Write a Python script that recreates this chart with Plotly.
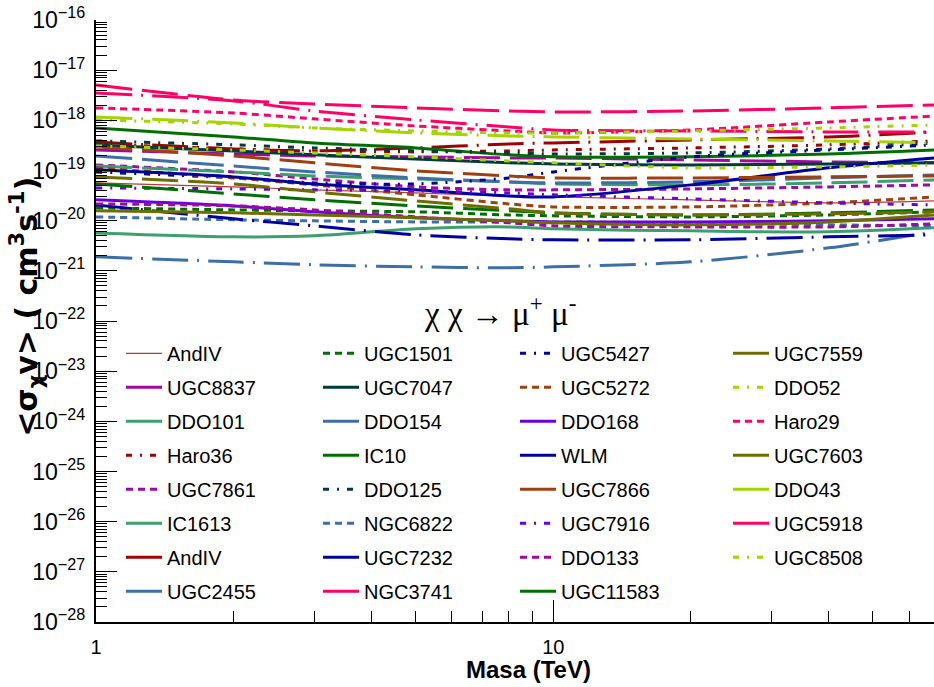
import plotly.graph_objects as go
import math

# Mass grid (TeV)
masa = [1, 2, 3, 5, 8, 10, 20, 40, 68]

# <sigma v> upper limits (cm^3 s^-1)
AndIV_a  = [5.66e-20, 4.71e-20, 4.11e-20, 3.58e-20, 3.12e-20, 2.98e-20, 2.60e-20, 2.26e-20, 2.48e-20]
UGC8837  = [2.57e-19, 2.14e-19, 1.95e-19, 1.87e-19, 1.78e-19, 1.78e-19, 1.63e-19, 1.48e-19, 1.42e-19]
DDO101   = [5.71e-21, 4.76e-21, 4.98e-21, 6.87e-21, 7.52e-21, 6.87e-21, 6.26e-21, 5.98e-21, 7.19e-21]
Haro36   = [3.39e-19, 2.69e-19, 2.46e-19, 2.35e-19, 2.46e-19, 2.57e-19, 2.82e-19, 3.24e-19, 3.89e-19]
UGC7861  = [1.29e-19, 9.38e-20, 6.80e-20, 4.71e-20, 4.11e-20, 4.11e-20, 4.30e-20, 4.71e-20, 5.17e-20]
IC1613   = [1.23e-19, 9.38e-20, 7.81e-20, 6.80e-20, 5.93e-20, 5.41e-20, 5.17e-20, 5.66e-20, 6.50e-20]
AndIV_b  = [3.71e-19, 2.69e-19, 2.46e-19, 2.82e-19, 3.39e-19, 3.55e-19, 4.07e-19, 4.67e-19, 5.87e-19]
UGC2455  = [1.90e-21, 1.51e-21, 1.32e-21, 1.20e-21, 1.15e-21, 1.20e-21, 1.51e-21, 2.87e-21, 5.98e-21]
UGC1501  = [1.80e-20, 1.64e-20, 1.57e-20, 1.50e-20, 1.30e-20, 1.25e-20, 1.19e-20, 1.30e-20, 1.50e-20]
UGC7047  = [3.24e-19, 2.46e-19, 2.05e-19, 1.70e-19, 1.42e-19, 1.35e-19, 1.29e-19, 1.35e-19, 1.42e-19]
DDO154   = [1.95e-19, 1.23e-19, 9.38e-20, 7.12e-20, 5.93e-20, 5.66e-20, 5.93e-20, 7.12e-20, 8.17e-20]
IC10     = [7.06e-19, 4.67e-19, 3.55e-19, 2.82e-19, 2.05e-19, 1.87e-19, 1.87e-19, 2.14e-19, 2.57e-19]
DDO125   = [3.89e-19, 3.24e-19, 2.82e-19, 2.46e-19, 2.24e-19, 2.14e-19, 2.24e-19, 2.69e-19, 3.55e-19]
NGC6822  = [1.19e-20, 1.04e-20, 9.91e-21, 9.46e-21, 9.46e-21, 9.46e-21, 9.04e-21, 8.25e-21, 7.88e-21]
UGC7232  = [2.06e-20, 1.09e-20, 7.88e-21, 5.21e-21, 4.34e-21, 4.15e-21, 4.15e-21, 4.76e-21, 5.21e-21]
NGC3741  = [5.07e-18, 2.55e-18, 2.12e-18, 1.77e-18, 1.54e-18, 1.47e-18, 1.54e-18, 1.77e-18, 2.03e-18]
UGC5427  = [9.38e-20, 7.12e-20, 5.66e-20, 5.41e-20, 7.12e-20, 9.38e-20, 1.87e-19, 2.57e-19, 3.24e-19]
UGC5272  = [1.13e-19, 7.12e-20, 5.17e-20, 3.27e-20, 2.16e-20, 1.88e-20, 1.88e-20, 2.26e-20, 2.98e-20]
DDO168   = [2.60e-20, 1.97e-20, 1.50e-20, 1.14e-20, 9.91e-21, 9.46e-21, 9.46e-21, 9.91e-21, 1.09e-20]
WLM      = [1.03e-19, 7.46e-20, 5.41e-20, 4.11e-20, 3.12e-20, 2.98e-20, 5.17e-20, 1.13e-19, 1.78e-19]
UGC7866  = [2.95e-19, 1.95e-19, 1.42e-19, 9.82e-20, 7.81e-20, 7.12e-20, 7.12e-20, 7.46e-20, 7.81e-20]
UGC7916  = [4.50e-20, 4.30e-20, 4.11e-20, 3.92e-20, 3.58e-20, 3.27e-20, 2.72e-20, 2.26e-20, 2.06e-20]
DDO133   = [2.16e-20, 1.97e-20, 1.64e-20, 1.19e-20, 9.04e-21, 7.88e-21, 7.52e-21, 7.52e-21, 8.64e-21]
UGC11583 = [5.41e-20, 3.42e-20, 2.60e-20, 1.97e-20, 1.57e-20, 1.43e-20, 1.30e-20, 1.43e-20, 1.64e-20]
UGC7559  = [7.46e-20, 5.41e-20, 3.75e-20, 2.48e-20, 1.72e-20, 1.43e-20, 1.30e-20, 1.37e-20, 1.50e-20]
DDO52    = [3.09e-19, 2.57e-19, 2.24e-19, 1.87e-19, 1.55e-19, 1.42e-19, 1.13e-19, 1.18e-19, 1.29e-19]
Haro29   = [1.77e-18, 1.40e-18, 1.07e-18, 7.73e-19, 6.15e-19, 5.61e-19, 6.44e-19, 9.29e-19, 1.22e-18]
UGC7603  = [1.57e-20, 1.43e-20, 1.30e-20, 1.14e-20, 9.91e-21, 9.04e-21, 8.25e-21, 9.46e-21, 1.30e-20]
DDO43    = [1.17e-18, 8.88e-19, 7.06e-19, 5.61e-19, 4.89e-19, 4.67e-19, 4.26e-19, 3.89e-19, 3.55e-19]
UGC5918  = [3.52e-18, 2.44e-18, 1.54e-18, 1.02e-18, 7.39e-19, 6.44e-19, 6.15e-19, 5.87e-19, 5.87e-19]
UGC8508  = [1.02e-18, 8.48e-19, 7.06e-19, 6.15e-19, 5.61e-19, 5.61e-19, 6.15e-19, 7.06e-19, 8.10e-19]

# styles
SOLID = "solid"
DASH = "7px,5px"
DASHDOT = "6px,8px,2px,8px"
LONG = "36px,10px"
LONGDOT = "36px,9px,2px,9px"

C_FIRE = "#b43c3c"; C_MAG = "#a0089f"; C_SEA = "#3c9f6e"; C_DRED = "#a00000"
C_STEEL = "#3d6fa6"; C_GREEN = "#006f00"; C_TEAL = "#003c3c"; C_NAVY = "#00009e"
C_PINK = "#ff0066"; C_SIENNA = "#a0400f"; C_VIOLET = "#6a00dc"; C_OLIVE = "#6e6e00"
C_YG = "#a5d400"

columns = [
    [("AndIV", AndIV_a, C_FIRE, SOLID, 1.2), ("UGC8837", UGC8837, C_MAG, LONG, 3),
     ("DDO101", DDO101, C_SEA, SOLID, 3), ("Haro36", Haro36, C_DRED, DASHDOT, 3),
     ("UGC7861", UGC7861, C_MAG, DASH, 3), ("IC1613", IC1613, C_SEA, LONG, 3),
     ("AndIV", AndIV_b, C_DRED, LONGDOT, 3), ("UGC2455", UGC2455, C_STEEL, LONGDOT, 3)],
    [("UGC1501", UGC1501, C_GREEN, DASH, 3), ("UGC7047", UGC7047, C_TEAL, SOLID, 3),
     ("DDO154", DDO154, C_STEEL, LONG, 3), ("IC10", IC10, C_GREEN, SOLID, 3),
     ("DDO125", DDO125, C_TEAL, DASHDOT, 3), ("NGC6822", NGC6822, C_STEEL, DASH, 3),
     ("UGC7232", UGC7232, C_NAVY, LONGDOT, 3), ("NGC3741", NGC3741, C_PINK, LONG, 3)],
    [("UGC5427", UGC5427, C_NAVY, DASHDOT, 3), ("UGC5272", UGC5272, C_SIENNA, DASH, 3),
     ("DDO168", DDO168, C_VIOLET, SOLID, 3), ("WLM", WLM, C_NAVY, SOLID, 3),
     ("UGC7866", UGC7866, C_SIENNA, LONG, 3), ("UGC7916", UGC7916, C_VIOLET, DASHDOT, 3),
     ("DDO133", DDO133, C_MAG, DASH, 3), ("UGC11583", UGC11583, C_GREEN, LONG, 3)],
    [("UGC7559", UGC7559, C_OLIVE, LONG, 3), ("DDO52", DDO52, C_YG, DASHDOT, 3),
     ("Haro29", Haro29, C_PINK, DASH, 3), ("UGC7603", UGC7603, C_OLIVE, SOLID, 3),
     ("DDO43", DDO43, C_YG, LONGDOT, 3), ("UGC5918", UGC5918, C_PINK, LONGDOT, 3),
     ("UGC8508", UGC8508, C_YG, DASHDOT, 3)],
]

legend_names = ["legend", "legend2", "legend3", "legend4"]

fig = go.Figure()
k = 0
for ci, col in enumerate(columns):
    for name, vals, color, dash, w in col:
        k += 1
        fig.add_trace(go.Scatter(
            x=masa, y=vals, mode="lines", name=name,
            line=dict(color=color, dash=dash, width=w, shape="spline", smoothing=0.8),
            legend=legend_names[ci], legendgroup="g%d" % k,
        ))

FONT = "Liberation Sans, Arial, Helvetica, sans-serif"
L, T, W, H = 96, 20, 838, 602.4

def px_x(p):
    return (p - L) / W

def px_y(p):
    return 1 - (p - T) / H

leg_common = dict(bgcolor="rgba(0,0,0,0)", font=dict(family=FONT, size=20, color="black"),
                  tracegroupgap=5, yanchor="top", xanchor="left", itemwidth=36,
                  orientation="v", traceorder="grouped")
col_line_x = [126, 323, 520, 733]
layout_legends = {}
for i, ln in enumerate(legend_names):
    layout_legends[ln] = dict(leg_common, x=px_x(col_line_x[i] - 5), y=px_y(334))

fig.update_layout(
    width=934, height=687,
    margin=dict(l=L, r=0, t=T, b=687 - T - H),
    paper_bgcolor="white", plot_bgcolor="white",
    showlegend=True,
    font=dict(family=FONT, color="black"),
    **layout_legends,
)

fig.update_xaxes(
    type="log", range=[0, math.log10(68)], showgrid=False, zeroline=False,
    showline=True, linecolor="black", linewidth=2,
    ticks="inside", ticklen=22, tickwidth=1, tickcolor="black",
    dtick=1, tickfont=dict(family=FONT, size=20, color="black"),
    ticklabelstandoff=6,
    minor=dict(ticks="inside", ticklen=11, tickwidth=1, tickcolor="black", dtick="D1", showgrid=False),
)
fig.update_yaxes(
    type="log", range=[-28, -16], showgrid=False, zeroline=False,
    showline=True, linecolor="black", linewidth=2,
    ticks="inside", ticklen=21, tickwidth=1, tickcolor="black",
    dtick=1, exponentformat="power", showexponent="all",
    tickfont=dict(family=FONT, size=18.5, color="black"),
    ticklabelstandoff=5,
    minor=dict(ticks="inside", ticklen=11, tickwidth=1, tickcolor="black", dtick="D1", showgrid=False),
)

fig.add_annotation(text="<b>Masa (TeV)</b>", xref="paper", yref="paper",
                   x=px_x(528), y=px_y(670), xanchor="center", yanchor="middle", showarrow=False,
                   font=dict(family=FONT, size=24, color="black"))
fig.add_annotation(text="<b>&lt;σ<sub>χ</sub>v&gt; ( cm<sup>3</sup>s<sup>-1</sup>)</b>", xref="paper", yref="paper",
                   x=px_x(27), y=px_y(307), xanchor="center", yanchor="middle", showarrow=False,
                   textangle=-90, font=dict(family="DejaVu Sans, sans-serif", size=30, color="black"))
fig.add_annotation(text="χ χ → μ<sup>+</sup> μ<sup>-</sup>", xref="paper", yref="paper",
                   x=px_x(500), y=px_y(311), xanchor="center", yanchor="middle", showarrow=False,
                   font=dict(family="Liberation Serif, Times New Roman, serif", size=33, color="black"))

fig.write_html("out.html")
